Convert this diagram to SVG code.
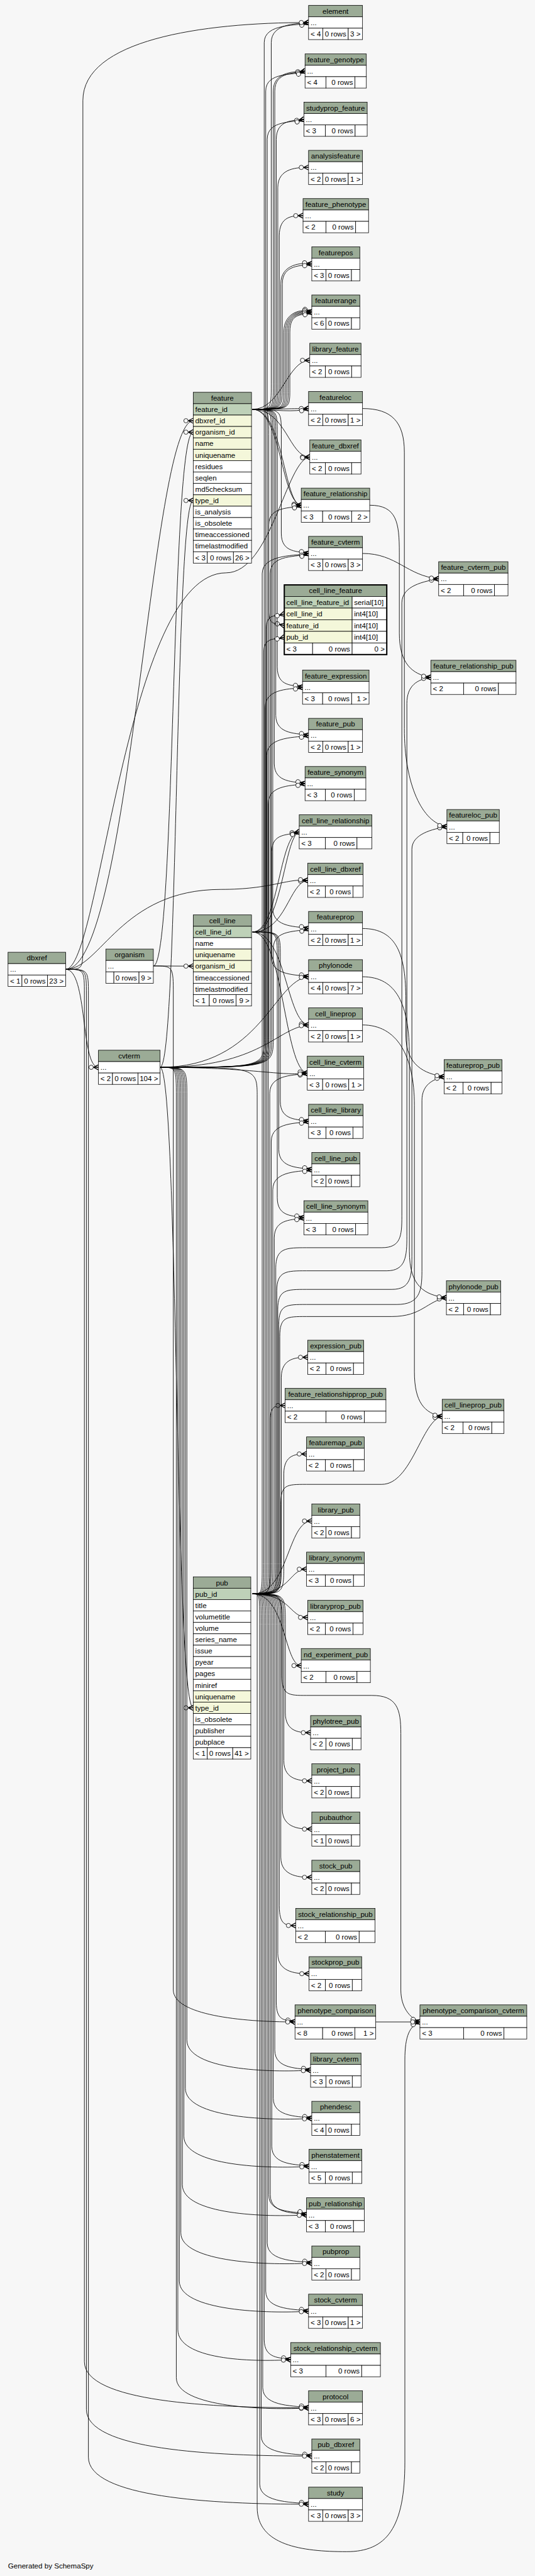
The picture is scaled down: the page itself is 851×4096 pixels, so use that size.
<svg xmlns="http://www.w3.org/2000/svg" xmlns:xlink="http://www.w3.org/1999/xlink" width="851" height="4096" viewBox="0 0 851 4096">
<style>
.e{fill:none;stroke:#000;stroke-width:1.1;marker-end:url(#cr)}
.b{fill:#fff;stroke:#000;stroke-width:1}
.h{fill:#9bab96;stroke:#000;stroke-width:1}
.k{fill:#bed1b8;stroke:#000;stroke-width:1}
.x{fill:#f4f7da;stroke:#000;stroke-width:1}
text{font-family:"Liberation Sans",Arial,Helvetica,sans-serif;font-size:14.5px;fill:#000}
.t{text-anchor:middle}
.r{text-anchor:end}
</style>
<defs>
<marker id="cr" viewBox="-20 -7 22 14" refX="0" refY="0" markerWidth="22" markerHeight="14" markerUnits="userSpaceOnUse" orient="auto" overflow="visible">
<path d="M0,-5 L-10,0 L0,5 M-10,0 L0,0" fill="none" stroke="#000" stroke-width="1.6"/>
<circle cx="-14.5" cy="0" r="4.3" fill="#f7f7f7" stroke="#000" stroke-width="1"/>
</marker>
<g id="fE"><rect class="h" width="107.4" height="22.67"/><rect class="b" y="22.67" width="107.4" height="22.67"/><rect class="b" y="45.33" width="28.4" height="22.67"/><rect class="b" x="28.4" y="45.33" width="50.6" height="22.67"/><rect class="b" x="79" y="45.33" width="28.4" height="22.67"/></g>
<g id="fP"><rect class="h" width="95.6" height="22.67"/><rect class="b" y="22.67" width="95.6" height="22.67"/><rect class="b" y="45.33" width="28.3" height="22.67"/><rect class="b" x="28.3" y="45.33" width="50.7" height="22.67"/><rect class="b" x="79" y="45.33" width="16.6" height="22.67"/></g>
<g id="fQ"><rect class="h" width="115" height="22.67"/><rect class="b" y="22.67" width="115" height="22.67"/><rect class="b" y="45.33" width="37.4" height="22.67"/><rect class="b" x="37.4" y="45.33" width="56" height="22.67"/><rect class="b" x="93.4" y="45.33" width="21.6" height="22.67"/></g>
<g id="fT"><rect class="h" width="100.4" height="22.67"/><rect class="b" y="22.67" width="100.4" height="22.67"/><rect class="b" y="45.33" width="30.7" height="22.67"/><rect class="b" x="30.7" y="45.33" width="52.3" height="22.67"/><rect class="b" x="83" y="45.33" width="17.4" height="22.67"/></g>
<g id="fU"><rect class="h" width="110" height="22.67"/><rect class="b" y="22.67" width="110" height="22.67"/><rect class="b" y="45.33" width="35" height="22.67"/><rect class="b" x="35" y="45.33" width="55" height="22.67"/><rect class="b" x="90" y="45.33" width="20" height="22.67"/></g>
<g id="fL"><rect class="h" width="102" height="22.67"/><rect class="b" y="22.67" width="102" height="22.67"/><rect class="b" y="45.33" width="31" height="22.67"/><rect class="b" x="31" y="45.33" width="52.3" height="22.67"/><rect class="b" x="83.3" y="45.33" width="18.7" height="22.67"/></g>
</defs>
<rect width="851" height="4096" fill="#f7f7f7"/>
<g transform="scale(0.799)">
<g id="connectors">
<path class="e" d="M502.7,814.6 C540,814.6 540,814.6 540,764.6 L540,84.8 C540,44.8 594.3,47.8 614.3,44.8"/>
<path class="e" d="M502.7,814.6 C544,814.6 544,814.6 544,764.6 L544,181.3 C544,141.3 587.3,143.3 607.3,141.3"/>
<path class="e" d="M502.7,814.6 C547,814.6 547,814.6 547,764.6 L547,181.3 C547,141.3 587.3,147.3 607.3,141.3"/>
<path class="e" d="M502.7,814.6 C550,814.6 550,814.6 550,764.6 L550,277.3 C550,237.3 585,240.3 605,237.3"/>
<path class="e" d="M502.7,814.6 C553,814.6 553,814.6 553,764.6 L553,373.2 C553,333.2 594.3,333.2 614.3,333.2"/>
<path class="e" d="M502.7,814.6 C556,814.6 556,814.6 556,764.6 L556,469.2 C556,429.2 583.3,429.2 603.3,429.2"/>
<path class="e" d="M502.7,814.6 C559,814.6 559,814.6 559,764.6 L559,565.1 C559,525.1 600.7,522.1 620.7,525.1"/>
<path class="e" d="M502.7,814.6 C562,814.6 562,814.6 562,764.6 L562,565.1 C562,525.1 600.7,530.1 620.7,525.1"/>
<path class="e" d="M502.7,814.6 C565,814.6 565,814.6 565,774.6 L565,661 C565,621 600.7,613 620.7,621"/>
<path class="e" d="M502.7,814.6 C568,814.6 568,814.6 568,774.6 L568,661 C568,621 600.7,617 620.7,621"/>
<path class="e" d="M502.7,814.6 C571,814.6 571,814.6 571,774.6 L571,661 C571,621 600.7,621 620.7,621"/>
<path class="e" d="M502.7,814.6 C574,814.6 574,814.6 574,774.6 L574,661 C574,621 600.7,625 620.7,621"/>
<path class="e" d="M502.7,814.6 C577,814.6 577,814.6 577,774.6 L577,661 C577,621 600.7,629 620.7,621"/>
<path class="e" d="M502.7,814.6 C560,814.6 572,717 616.7,717"/>
<path class="e" d="M502.7,814.6 C560,814.6 570,813 614.3,813"/>
<path class="e" d="M502.7,814.6 C545,814.6 585,822 614.3,813"/>
<path class="e" d="M502.7,814.6 C570,814.6 575,909.5 616.7,909.5"/>
<path class="e" d="M502.7,814.6 C560,814.6 560,1000 599.7,1005.4"/>
<path class="e" d="M502.7,814.6 C565,814.6 565,1005.4 599.7,1005.4"/>
<path class="e" d="M502.7,814.6 C560,814.6 560,814.6 560,864.6 L560,1061.4 C560,1101.4 594.3,1096.4 614.3,1101.4"/>
<path class="e" d="M502.7,814.6 C535,814.6 535,814.6 535,864.6 L535,1214.85 C535,1244.85 546,1240 566,1244.85"/>
<path class="e" d="M502.7,814.6 C552,814.6 552,814.6 552,864.6 L552,1327.5 C552,1367.5 582.3,1362.5 602.3,1367.5"/>
<path class="e" d="M502.7,814.6 C549,814.6 549,814.6 549,864.6 L549,1423.5 C549,1463.5 594.3,1458.5 614.3,1463.5"/>
<path class="e" d="M502.7,814.6 C546,814.6 546,814.6 546,864.6 L546,1519.4 C546,1559.4 587.3,1554.4 607.3,1559.4"/>
<path class="e" d="M502.7,814.6 C543,814.6 543,814.6 543,864.6 L543,1807.8 C543,1847.8 594.3,1842.8 614.3,1847.8"/>
<path class="e" d="M502.7,814.6 C540,814.6 540,814.6 540,864.6 L540,1903.8 C540,1943.8 594.3,1938.8 614.3,1943.8"/>
<path class="e" d="M502.7,1854.7 C530,1854.7 530,1854.7 530,1804.7 L530,1251.75 C530,1221.75 546,1226.75 566,1221.75"/>
<path class="e" d="M502.7,1854.7 C555,1854.7 555,1660 595.7,1655.4"/>
<path class="e" d="M502.7,1854.7 C562,1854.7 565,1666 595.7,1655.4"/>
<path class="e" d="M502.7,1854.7 C570,1854.7 575,1756 612.7,1751.9"/>
<path class="e" d="M502.7,1854.7 C570,1854.7 570,2034 614.3,2039.7"/>
<path class="e" d="M502.7,1854.7 C565,1854.7 565,2128 611.7,2135.7"/>
<path class="e" d="M502.7,1854.7 C558,1854.7 558,1854.7 558,1904.7 L558,2191.6 C558,2231.6 594.3,2226.6 614.3,2231.6"/>
<path class="e" d="M502.7,1854.7 C555,1854.7 555,1854.7 555,1904.7 L555,2287.6 C555,2327.6 600.7,2322.6 620.7,2327.6"/>
<path class="e" d="M502.7,1854.7 C552,1854.7 552,1854.7 552,1904.7 L552,2383.5 C552,2423.5 585,2418.5 605,2423.5"/>
<path class="e" d="M502.7,3172 C522,3172 522,3172 522,3112 L522,1141.4 C522,1101.4 594.3,1106.4 614.3,1101.4"/>
<path class="e" d="M502.7,3172 C525,3172 525,3172 525,3112 L525,1297.95 C525,1267.95 546,1272.95 566,1267.95"/>
<path class="e" d="M502.7,3172 C528,3172 528,3172 528,3112 L528,1407.5 C528,1367.5 582.3,1372.5 602.3,1367.5"/>
<path class="e" d="M502.7,3172 C531,3172 531,3172 531,3112 L531,1503.5 C531,1463.5 594.3,1468.5 614.3,1463.5"/>
<path class="e" d="M502.7,3172 C534,3172 534,3172 534,3112 L534,1599.4 C534,1559.4 587.3,1564.4 607.3,1559.4"/>
<path class="e" d="M502.7,3172 C537,3172 537,3172 537,3112 L537,2175.7 C537,2135.7 591.7,2140.7 611.7,2135.7"/>
<path class="e" d="M502.7,3172 C540,3172 540,3172 540,3112 L540,2271.6 C540,2231.6 594.3,2236.6 614.3,2231.6"/>
<path class="e" d="M502.7,3172 C543,3172 543,3172 543,3112 L543,2367.6 C543,2327.6 600.7,2332.6 620.7,2327.6"/>
<path class="e" d="M502.7,3172 C546,3172 546,3172 546,3112 L546,2463.5 C546,2423.5 585,2428.5 605,2423.5"/>
<path class="e" d="M502.7,3172 C560,3172 560,3172 560,3112 L560,2741.1 C560,2701.1 592.7,2701.1 612.7,2701.1"/>
<path class="e" d="M502.7,3172 C538,3172 538,3172 538,3112 L538,2827 C538,2797 547.7,2797 567.7,2797"/>
<path class="e" d="M502.7,3172 C565,3172 565,3172 565,3112 L565,2933.5 C565,2893.5 590.3,2893.5 610.3,2893.5"/>
<path class="e" d="M502.7,3172 C575,3172 572,3026.9 620.7,3026.9"/>
<path class="e" d="M502.7,3172 C580,3172 575,3122.8 610.3,3122.8"/>
<path class="e" d="M502.7,3172 C549,3172 549,3172 549,3112 L549,2523 C549,2483 570,2483 610,2483 L760,2483 C798,2483 800,2460 800,2420 L800,1200 C800,1165 845,1157 873.3,1151.8"/>
<path class="e" d="M502.7,3172 C551,3172 551,3172 551,3112 L551,2569 C551,2529 570,2529 610,2529 L770,2529 C808,2529 810,2500 810,2460 L810,1400 C810,1365 830,1352 857.7,1348"/>
<path class="e" d="M502.7,3172 C553,3172 553,3172 553,3112 L553,2606 C553,2566 570,2566 610,2566 L780,2566 C818,2566 820,2540 820,2500 L820,1690 C820,1660 860,1650 889.7,1645"/>
<path class="e" d="M502.7,3172 C555,3172 555,3172 555,3112 L555,2636 C555,2596 570,2596 610,2596 L790,2596 C835,2596 840,2570 840,2530 L840,2190 C840,2160 860,2148 884.3,2142.7"/>
<path class="e" d="M502.7,3172 C557,3172 557,3172 557,3112 L557,2660 C557,2620 570,2620 610,2620 L780,2620 C840,2620 850,2589 888.7,2582.7"/>
<path class="e" d="M502.7,3172 C559,3172 559,3172 559,3112 L559,2994 C559,2954 570,2954 610,2954 L760,2954 C820,2954 840,2825 880.3,2818.7"/>
<path class="e" d="M502.7,3172 C561,3172 561,3172 561,3232 L561,3334 C561,3374 575,3374 610,3374 L740,3374 C790,3374 798,3400 798,3450 L798,3960 C798,3995 816,4016 836,4023.8"/>
<path class="e" d="M502.7,3172 C580,3172 575,3218.8 612.7,3218.8"/>
<path class="e" d="M502.7,3172 C570,3172 565,3314.7 599.7,3314.7"/>
<path class="e" d="M502.7,3172 C568,3172 568,3172 568,3232 L568,3408.1 C568,3448.1 598.3,3448.1 618.3,3448.1"/>
<path class="e" d="M502.7,3172 C565,3172 565,3172 565,3232 L565,3504 C565,3544 600.7,3544 620.7,3544"/>
<path class="e" d="M502.7,3172 C562,3172 562,3172 562,3232 L562,3600 C562,3640 600.7,3640 620.7,3640"/>
<path class="e" d="M502.7,3172 C559,3172 559,3172 559,3232 L559,3696 C559,3736 600.7,3736 620.7,3736"/>
<path class="e" d="M502.7,3172 C556,3172 556,3172 556,3232 L556,3791.9 C556,3831.9 568.7,3831.9 588.7,3831.9"/>
<path class="e" d="M502.7,3172 C553,3172 553,3172 553,3232 L553,3887.8 C553,3927.8 595.3,3927.8 615.3,3927.8"/>
<path class="e" d="M502.7,3172 C550,3172 550,3172 550,3232 L550,3983.8 C550,4023.8 567.3,4018.8 587.3,4023.8"/>
<path class="e" d="M502.7,3172 C547,3172 547,3172 547,3232 L547,4079.8 C547,4119.8 598.3,4114.8 618.3,4119.8"/>
<path class="e" d="M502.7,3172 C544,3172 544,3172 544,3232 L544,4175.7 C544,4215.7 600.7,4210.7 620.7,4215.7"/>
<path class="e" d="M502.7,3172 C541,3172 541,3172 541,3232 L541,4271.3 C541,4311.3 595.3,4306.3 615.3,4311.3"/>
<path class="e" d="M502.7,3172 C538,3172 538,3172 538,3232 L538,4367.7 C538,4407.7 590.3,4402.7 610.3,4407.7"/>
<path class="e" d="M502.7,3172 C535,3172 535,3172 535,3232 L535,4367.7 C535,4407.7 590.3,4398 610.3,4407.7"/>
<path class="e" d="M502.7,3172 C532,3172 532,3172 532,3232 L532,4463.6 C532,4503.6 600.7,4498.6 620.7,4503.6"/>
<path class="e" d="M502.7,3172 C529,3172 529,3172 529,3232 L529,4559.5 C529,4599.5 594.3,4594.5 614.3,4599.5"/>
<path class="e" d="M502.7,3172 C526,3172 526,3172 526,3232 L526,4655.9 C526,4695.9 558.7,4690.9 578.7,4695.9"/>
<path class="e" d="M502.7,3172 C523,3172 523,3172 523,3232 L523,4751.8 C523,4791.8 594.3,4786.8 614.3,4791.8"/>
<path class="e" d="M502.7,3172 C520,3172 520,3172 520,3232 L520,4847.7 C520,4887.7 600.7,4882.7 620.7,4887.7"/>
<path class="e" d="M502.7,3172 C517,3172 517,3172 517,3232 L517,4943.6 C517,4983.6 594.3,4978.6 614.3,4983.6"/>
<path class="e" d="M318.7,2124 C355,2124 348,996 384.7,996"/>
<path class="e" d="M318.7,2124 C355,2124 348,3398.7 384.7,3398.7"/>
<path class="e" d="M318.7,2124 C526,2124 526,2124 526,2064 L526,84.8 C526,44.8 594.3,52.8 614.3,44.8"/>
<path class="e" d="M318.7,2124 C529,2124 529,2124 529,2064 L529,181.3 C529,141.3 587.3,151.3 607.3,141.3"/>
<path class="e" d="M318.7,2124 C532,2124 532,2124 532,2064 L532,277.3 C532,237.3 585,245.3 605,237.3"/>
<path class="e" d="M318.7,2124 C535,2124 535,2124 535,2064 L535,1045.4 C535,1005.4 579.7,1013.4 599.7,1005.4"/>
<path class="e" d="M318.7,2124 C538,2124 538,2124 538,2064 L538,1141.4 C538,1101.4 594.3,1110 614.3,1101.4"/>
<path class="e" d="M318.7,2124 C541,2124 541,2124 541,2064 L541,1695.4 C541,1655.4 575.7,1663.4 595.7,1655.4"/>
<path class="e" d="M318.7,2124 C544,2124 544,2124 544,2064 L544,1887.8 C544,1847.8 594.3,1855.8 614.3,1847.8"/>
<path class="e" d="M318.7,2124 C520,2124 545,1950 614.3,1943.8"/>
<path class="e" d="M318.7,2124 C520,2124 550,2046 614.3,2039.7"/>
<path class="e" d="M318.7,2124 C500,2124 560,2142 611.7,2135.7"/>
<path class="e" d="M318.7,2124 C372,2124 372,2124 372,2184 L372,4059.8 C372,4119.8 538.3,4124.8 618.3,4119.8"/>
<path class="e" d="M318.7,2124 C369,2124 369,2124 369,2184 L369,4155.7 C369,4215.7 540.7,4220.7 620.7,4215.7"/>
<path class="e" d="M318.7,2124 C366,2124 366,2124 366,2184 L366,4251.3 C366,4311.3 535.3,4316.3 615.3,4311.3"/>
<path class="e" d="M318.7,2124 C363,2124 363,2124 363,2184 L363,4347.7 C363,4407.7 530.3,4412.7 610.3,4407.7"/>
<path class="e" d="M318.7,2124 C360,2124 360,2124 360,2184 L360,4443.6 C360,4503.6 540.7,4508.6 620.7,4503.6"/>
<path class="e" d="M318.7,2124 C357,2124 357,2124 357,2184 L357,4539.5 C357,4599.5 534.3,4604.5 614.3,4599.5"/>
<path class="e" d="M318.7,2124 C354,2124 354,2124 354,2184 L354,4635.9 C354,4695.9 498.7,4700.9 578.7,4695.9"/>
<path class="e" d="M318.7,2124 C351,2124 351,2124 351,2184 L351,4731.8 C351,4791.8 534.3,4796.8 614.3,4791.8"/>
<path class="e" d="M318.7,2124 C512,2124 512,2124 512,2184 L512,4990 C512,5065 600,5078 690,5078 C770,5078 806,5030 806,4900 L806,4100 C806,4050 816,4032 836,4023.8"/>
<path class="e" d="M130.7,1929 C260,1929 300,837.3 384.7,837.3"/>
<path class="e" d="M130.7,1929 C175,1929 160,2124 196,2124"/>
<path class="e" d="M130.7,1929 C165,1929 165,1929 165,1880 L165,200 C165,80 400,44.8 614.3,44.8"/>
<path class="e" d="M130.7,1929 C200,1929 250,1140 450,1140 C540,1140 570,914 616.7,909.5"/>
<path class="e" d="M130.7,1929 C200,1929 240,1770 440,1770 C540,1770 570,1748 612.7,1751.9"/>
<path class="e" d="M130.7,1929 C168,1929 168,1929 168,1980 L168,4700 C168,4780 420,4791.8 614.3,4791.8"/>
<path class="e" d="M130.7,1929 C172,1929 172,1929 172,1980 L172,4795 C172,4875 420,4887.7 620.7,4887.7"/>
<path class="e" d="M130.7,1929 C176,1929 176,1929 176,1980 L176,4890 C176,4970 420,4983.6 614.3,4983.6"/>
<path class="e" d="M305.3,1922.3 C350,1922.3 340,860 384.7,860"/>
<path class="e" d="M305.3,1922.3 L384.7,1922.7"/>
<path class="e" d="M305.3,1922.3 C345,1922.3 345,1922.3 345,1980 L345,3960 C345,4010 480,4023.8 587.3,4023.8"/>
<path class="e" d="M721.7,813 C780,813 805,840 805,900 L805,1450 C805,1560 840,1638 889.7,1645"/>
<path class="e" d="M736,1005.4 C790,1005.4 795,1040 795,1100 L795,1260 C795,1320 820,1342 857.7,1348"/>
<path class="e" d="M721.7,1101.4 C790,1101.4 810,1146 873.3,1151.8"/>
<path class="e" d="M721.7,1847.8 C790,1847.8 808,1900 808,1990 L808,2060 C808,2120 845,2137 884.3,2142.7"/>
<path class="e" d="M721.7,1943.8 C790,1943.8 815,2000 815,2100 L815,2490 C815,2560 845,2577 888.7,2582.7"/>
<path class="e" d="M721.7,2039.7 C790,2039.7 825,2100 825,2200 L825,2730 C825,2790 845,2813 880.3,2818.7"/>
<path class="e" d="M748,4023.8 L836,4023.8"/>
</g>
<g id="nodes">
<g id="feature" transform="translate(384.7,780.7)">
<rect class="h" width="116" height="22.67"/>
<rect class="k" y="22.67" width="116" height="22.67"/>
<rect class="x" y="45.33" width="116" height="22.67"/>
<rect class="x" y="68" width="116" height="22.67"/>
<rect class="x" y="90.67" width="116" height="22.67"/>
<rect class="x" y="113.33" width="116" height="22.67"/>
<rect class="b" y="136" width="116" height="22.67"/>
<rect class="b" y="158.67" width="116" height="22.67"/>
<rect class="b" y="181.33" width="116" height="22.67"/>
<rect class="x" y="204" width="116" height="22.67"/>
<rect class="b" y="226.67" width="116" height="22.67"/>
<rect class="b" y="249.33" width="116" height="22.67"/>
<rect class="b" y="272" width="116" height="22.67"/>
<rect class="b" y="294.67" width="116" height="22.67"/>
<rect class="b" y="317.33" width="28" height="22.67"/><rect class="b" x="28" y="317.33" width="52" height="22.67"/><rect class="b" x="80" y="317.33" width="36" height="22.67"/>
<text class="t" x="58" y="16.6">feature</text>
<text x="4" y="39.27">feature_id</text>
<text x="4" y="61.93">dbxref_id</text>
<text x="4" y="84.6">organism_id</text>
<text x="4" y="107.27">name</text>
<text x="4" y="129.93">uniquename</text>
<text x="4" y="152.6">residues</text>
<text x="4" y="175.27">seqlen</text>
<text x="4" y="197.93">md5checksum</text>
<text x="4" y="220.6">type_id</text>
<text x="4" y="243.27">is_analysis</text>
<text x="4" y="265.93">is_obsolete</text>
<text x="4" y="288.6">timeaccessioned</text>
<text x="4" y="311.27">timelastmodified</text>
<text x="4" y="333.93">&lt; 3</text><text class="r" x="76" y="333.93">0 rows</text><text class="r" x="112" y="333.93">26 &gt;</text>
</g>
<g id="cell_line" transform="translate(384.7,1820.7)">
<rect class="h" width="116" height="22.67"/>
<rect class="k" y="22.67" width="116" height="22.67"/>
<rect class="b" y="45.33" width="116" height="22.67"/>
<rect class="x" y="68" width="116" height="22.67"/>
<rect class="x" y="90.67" width="116" height="22.67"/>
<rect class="b" y="113.33" width="116" height="22.67"/>
<rect class="b" y="136" width="116" height="22.67"/>
<rect class="b" y="158.67" width="32" height="22.67"/><rect class="b" x="32" y="158.67" width="53.3" height="22.67"/><rect class="b" x="85.3" y="158.67" width="30.7" height="22.67"/>
<text class="t" x="58" y="16.6">cell_line</text>
<text x="4" y="39.27">cell_line_id</text>
<text x="4" y="61.93">name</text>
<text x="4" y="84.6">uniquename</text>
<text x="4" y="107.27">organism_id</text>
<text x="4" y="129.93">timeaccessioned</text>
<text x="4" y="152.6">timelastmodified</text>
<text x="4" y="175.27">&lt; 1</text><text class="r" x="81.3" y="175.27">0 rows</text><text class="r" x="112" y="175.27">9 &gt;</text>
</g>
<g id="pub" transform="translate(384.7,3138)">
<rect class="h" width="114.6" height="22.67"/>
<rect class="k" y="22.67" width="114.6" height="22.67"/>
<rect class="b" y="45.33" width="114.6" height="22.67"/>
<rect class="b" y="68" width="114.6" height="22.67"/>
<rect class="b" y="90.67" width="114.6" height="22.67"/>
<rect class="b" y="113.33" width="114.6" height="22.67"/>
<rect class="b" y="136" width="114.6" height="22.67"/>
<rect class="b" y="158.67" width="114.6" height="22.67"/>
<rect class="b" y="181.33" width="114.6" height="22.67"/>
<rect class="b" y="204" width="114.6" height="22.67"/>
<rect class="x" y="226.67" width="114.6" height="22.67"/>
<rect class="x" y="249.33" width="114.6" height="22.67"/>
<rect class="b" y="272" width="114.6" height="22.67"/>
<rect class="b" y="294.67" width="114.6" height="22.67"/>
<rect class="b" y="317.33" width="114.6" height="22.67"/>
<rect class="b" y="340" width="28" height="22.67"/><rect class="b" x="28" y="340" width="50.6" height="22.67"/><rect class="b" x="78.6" y="340" width="36" height="22.67"/>
<text class="t" x="57.3" y="16.6">pub</text>
<text x="4" y="39.27">pub_id</text>
<text x="4" y="61.93">title</text>
<text x="4" y="84.6">volumetitle</text>
<text x="4" y="107.27">volume</text>
<text x="4" y="129.93">series_name</text>
<text x="4" y="152.6">issue</text>
<text x="4" y="175.27">pyear</text>
<text x="4" y="197.93">pages</text>
<text x="4" y="220.6">miniref</text>
<text x="4" y="243.27">uniquename</text>
<text x="4" y="265.93">type_id</text>
<text x="4" y="288.6">is_obsolete</text>
<text x="4" y="311.27">publisher</text>
<text x="4" y="333.93">pubplace</text>
<text x="4" y="356.6">&lt; 1</text><text class="r" x="74.6" y="356.6">0 rows</text><text class="r" x="110.6" y="356.6">41 &gt;</text>
</g>
<g id="cell_line_feature" transform="translate(566,1164)">
<rect class="h" width="204" height="23.1"/>
<rect class="k" y="23.1" width="135" height="23.1"/><rect class="b" x="135" y="23.1" width="69" height="23.1"/>
<rect class="x" y="46.2" width="135" height="23.1"/><rect class="b" x="135" y="46.2" width="69" height="23.1"/>
<rect class="x" y="69.3" width="135" height="23.1"/><rect class="b" x="135" y="69.3" width="69" height="23.1"/>
<rect class="x" y="92.4" width="135" height="23.1"/><rect class="b" x="135" y="92.4" width="69" height="23.1"/>
<rect class="b" y="115.5" width="56.3" height="23.1"/><rect class="b" x="56.3" y="115.5" width="78.7" height="23.1"/><rect class="b" x="135" y="115.5" width="69" height="23.1"/>
<rect x="0" y="0" width="204" height="138.6" fill="none" stroke="#000" stroke-width="2.5"/>
<text class="t" x="102" y="16.8">cell_line_feature</text>
<text x="4" y="39.9">cell_line_feature_id</text><text x="139" y="39.9">serial[10]</text>
<text x="4" y="63">cell_line_id</text><text x="139" y="63">int4[10]</text>
<text x="4" y="86.1">feature_id</text><text x="139" y="86.1">int4[10]</text>
<text x="4" y="109.2">pub_id</text><text x="139" y="109.2">int4[10]</text>
<text x="4" y="132.3">&lt; 3</text><text class="r" x="131" y="132.3">0 rows</text><text class="r" x="200" y="132.3">0 &gt;</text>
</g>
<g id="element" transform="translate(614.3,10.8)"><use href="#fE"/><text class="t" x="53.7" y="16.6">element</text><text x="4" y="39.2">...</text><text x="4" y="61.9">&lt; 4</text><text class="r" x="75" y="61.9">0 rows</text><text class="r" x="103.4" y="61.9">3 &gt;</text></g>
<g id="feature_genotype" transform="translate(607.3,107.3)"><rect class="h" width="122" height="22.67"/><rect class="b" y="22.67" width="122" height="22.67"/><rect class="b" y="45.33" width="41.7" height="22.67"/><rect class="b" x="41.7" y="45.33" width="57.7" height="22.67"/><rect class="b" x="99.4" y="45.33" width="22.6" height="22.67"/><text class="t" x="61" y="16.6">feature_genotype</text><text x="4" y="39.2">...</text><text x="4" y="61.9">&lt; 4</text><text class="r" x="95.4" y="61.9">0 rows</text></g>
<g id="studyprop_feature" transform="translate(605,203.3)"><rect class="h" width="126" height="22.67"/><rect class="b" y="22.67" width="126" height="22.67"/><rect class="b" y="45.33" width="42.7" height="22.67"/><rect class="b" x="42.7" y="45.33" width="59.3" height="22.67"/><rect class="b" x="102" y="45.33" width="24" height="22.67"/><text class="t" x="63" y="16.6">studyprop_feature</text><text x="4" y="39.2">...</text><text x="4" y="61.9">&lt; 3</text><text class="r" x="98" y="61.9">0 rows</text></g>
<g id="analysisfeature" transform="translate(614.3,299.2)"><use href="#fE"/><text class="t" x="53.7" y="16.6">analysisfeature</text><text x="4" y="39.2">...</text><text x="4" y="61.9">&lt; 2</text><text class="r" x="75" y="61.9">0 rows</text><text class="r" x="103.4" y="61.9">1 &gt;</text></g>
<g id="feature_phenotype" transform="translate(603.3,395.2)"><rect class="h" width="130.4" height="22.67"/><rect class="b" y="22.67" width="130.4" height="22.67"/><rect class="b" y="45.33" width="45.7" height="22.67"/><rect class="b" x="45.7" y="45.33" width="59" height="22.67"/><rect class="b" x="104.7" y="45.33" width="25.7" height="22.67"/><text class="t" x="65.2" y="16.6">feature_phenotype</text><text x="4" y="39.2">...</text><text x="4" y="61.9">&lt; 2</text><text class="r" x="100.7" y="61.9">0 rows</text></g>
<g id="featurepos" transform="translate(620.7,491.1)"><use href="#fP"/><text class="t" x="47.8" y="16.6">featurepos</text><text x="4" y="39.2">...</text><text x="4" y="61.9">&lt; 3</text><text class="r" x="75" y="61.9">0 rows</text></g>
<g id="featurerange" transform="translate(620.7,587)"><use href="#fP"/><text class="t" x="47.8" y="16.6">featurerange</text><text x="4" y="39.2">...</text><text x="4" y="61.9">&lt; 6</text><text class="r" x="75" y="61.9">0 rows</text></g>
<g id="library_feature" transform="translate(616.7,683)"><use href="#fL"/><text class="t" x="51" y="16.6">library_feature</text><text x="4" y="39.2">...</text><text x="4" y="61.9">&lt; 2</text><text class="r" x="79.3" y="61.9">0 rows</text></g>
<g id="featureloc" transform="translate(614.3,779)"><use href="#fE"/><text class="t" x="53.7" y="16.6">featureloc</text><text x="4" y="39.2">...</text><text x="4" y="61.9">&lt; 2</text><text class="r" x="75" y="61.9">0 rows</text><text class="r" x="103.4" y="61.9">1 &gt;</text></g>
<g id="feature_dbxref" transform="translate(616.7,875.5)"><use href="#fL"/><text class="t" x="51" y="16.6">feature_dbxref</text><text x="4" y="39.2">...</text><text x="4" y="61.9">&lt; 2</text><text class="r" x="79.3" y="61.9">0 rows</text></g>
<g id="feature_relationship" transform="translate(599.7,971.4)"><rect class="h" width="136.3" height="22.67"/><rect class="b" y="22.67" width="136.3" height="22.67"/><rect class="b" y="45.33" width="42.6" height="22.67"/><rect class="b" x="42.6" y="45.33" width="57.7" height="22.67"/><rect class="b" x="100.3" y="45.33" width="36" height="22.67"/><text class="t" x="68.15" y="16.6">feature_relationship</text><text x="4" y="39.2">...</text><text x="4" y="61.9">&lt; 3</text><text class="r" x="96.3" y="61.9">0 rows</text><text class="r" x="132.3" y="61.9">2 &gt;</text></g>
<g id="feature_cvterm" transform="translate(614.3,1067.4)"><use href="#fE"/><text class="t" x="53.7" y="16.6">feature_cvterm</text><text x="4" y="39.2">...</text><text x="4" y="61.9">&lt; 3</text><text class="r" x="75" y="61.9">0 rows</text><text class="r" x="103.4" y="61.9">3 &gt;</text></g>
<g id="feature_expression" transform="translate(602.3,1333.5)"><rect class="h" width="132.4" height="22.67"/><rect class="b" y="22.67" width="132.4" height="22.67"/><rect class="b" y="45.33" width="40" height="22.67"/><rect class="b" x="40" y="45.33" width="57.7" height="22.67"/><rect class="b" x="97.7" y="45.33" width="34.7" height="22.67"/><text class="t" x="66.2" y="16.6">feature_expression</text><text x="4" y="39.2">...</text><text x="4" y="61.9">&lt; 3</text><text class="r" x="93.7" y="61.9">0 rows</text><text class="r" x="128.4" y="61.9">1 &gt;</text></g>
<g id="feature_pub" transform="translate(614.3,1429.5)"><use href="#fE"/><text class="t" x="53.7" y="16.6">feature_pub</text><text x="4" y="39.2">...</text><text x="4" y="61.9">&lt; 2</text><text class="r" x="75" y="61.9">0 rows</text><text class="r" x="103.4" y="61.9">1 &gt;</text></g>
<g id="feature_synonym" transform="translate(607.3,1525.4)"><rect class="h" width="121" height="22.67"/><rect class="b" y="22.67" width="121" height="22.67"/><rect class="b" y="45.33" width="40.4" height="22.67"/><rect class="b" x="40.4" y="45.33" width="57.6" height="22.67"/><rect class="b" x="98" y="45.33" width="23" height="22.67"/><text class="t" x="60.5" y="16.6">feature_synonym</text><text x="4" y="39.2">...</text><text x="4" y="61.9">&lt; 3</text><text class="r" x="94" y="61.9">0 rows</text></g>
<g id="cell_line_relationship" transform="translate(595.7,1621.4)"><rect class="h" width="144.6" height="22.67"/><rect class="b" y="22.67" width="144.6" height="22.67"/><rect class="b" y="45.33" width="52" height="22.67"/><rect class="b" x="52" y="45.33" width="63" height="22.67"/><rect class="b" x="115" y="45.33" width="29.6" height="22.67"/><text class="t" x="72.3" y="16.6">cell_line_relationship</text><text x="4" y="39.2">...</text><text x="4" y="61.9">&lt; 3</text><text class="r" x="111" y="61.9">0 rows</text></g>
<g id="cell_line_dbxref" transform="translate(612.7,1717.9)"><use href="#fU"/><text class="t" x="55" y="16.6">cell_line_dbxref</text><text x="4" y="39.2">...</text><text x="4" y="61.9">&lt; 2</text><text class="r" x="86" y="61.9">0 rows</text></g>
<g id="featureprop" transform="translate(614.3,1813.8)"><use href="#fE"/><text class="t" x="53.7" y="16.6">featureprop</text><text x="4" y="39.2">...</text><text x="4" y="61.9">&lt; 2</text><text class="r" x="75" y="61.9">0 rows</text><text class="r" x="103.4" y="61.9">1 &gt;</text></g>
<g id="phylonode" transform="translate(614.3,1909.8)"><use href="#fE"/><text class="t" x="53.7" y="16.6">phylonode</text><text x="4" y="39.2">...</text><text x="4" y="61.9">&lt; 4</text><text class="r" x="75" y="61.9">0 rows</text><text class="r" x="103.4" y="61.9">7 &gt;</text></g>
<g id="cell_lineprop" transform="translate(614.3,2005.7)"><use href="#fE"/><text class="t" x="53.7" y="16.6">cell_lineprop</text><text x="4" y="39.2">...</text><text x="4" y="61.9">&lt; 2</text><text class="r" x="75" y="61.9">0 rows</text><text class="r" x="103.4" y="61.9">1 &gt;</text></g>
<g id="cell_line_cvterm" transform="translate(611.7,2101.7)"><rect class="h" width="112.3" height="22.67"/><rect class="b" y="22.67" width="112.3" height="22.67"/><rect class="b" y="45.33" width="30.6" height="22.67"/><rect class="b" x="30.6" y="45.33" width="52" height="22.67"/><rect class="b" x="82.6" y="45.33" width="29.7" height="22.67"/><text class="t" x="56.15" y="16.6">cell_line_cvterm</text><text x="4" y="39.2">...</text><text x="4" y="61.9">&lt; 3</text><text class="r" x="78.6" y="61.9">0 rows</text><text class="r" x="108.3" y="61.9">1 &gt;</text></g>
<g id="cell_line_library" transform="translate(614.3,2197.6)"><rect class="h" width="108.4" height="22.67"/><rect class="b" y="22.67" width="108.4" height="22.67"/><rect class="b" y="45.33" width="34.7" height="22.67"/><rect class="b" x="34.7" y="45.33" width="53.6" height="22.67"/><rect class="b" x="88.3" y="45.33" width="20.1" height="22.67"/><text class="t" x="54.2" y="16.6">cell_line_library</text><text x="4" y="39.2">...</text><text x="4" y="61.9">&lt; 3</text><text class="r" x="84.3" y="61.9">0 rows</text></g>
<g id="cell_line_pub" transform="translate(620.7,2293.6)"><use href="#fP"/><text class="t" x="47.8" y="16.6">cell_line_pub</text><text x="4" y="39.2">...</text><text x="4" y="61.9">&lt; 2</text><text class="r" x="75" y="61.9">0 rows</text></g>
<g id="cell_line_synonym" transform="translate(605,2389.5)"><rect class="h" width="127.3" height="22.67"/><rect class="b" y="22.67" width="127.3" height="22.67"/><rect class="b" y="45.33" width="44" height="22.67"/><rect class="b" x="44" y="45.33" width="59" height="22.67"/><rect class="b" x="103" y="45.33" width="24.3" height="22.67"/><text class="t" x="63.65" y="16.6">cell_line_synonym</text><text x="4" y="39.2">...</text><text x="4" y="61.9">&lt; 3</text><text class="r" x="99" y="61.9">0 rows</text></g>
<g id="expression_pub" transform="translate(612.7,2667.1)"><rect class="h" width="111.3" height="22.67"/><rect class="b" y="22.67" width="111.3" height="22.67"/><rect class="b" y="45.33" width="36.3" height="22.67"/><rect class="b" x="36.3" y="45.33" width="54.7" height="22.67"/><rect class="b" x="91" y="45.33" width="20.3" height="22.67"/><text class="t" x="55.65" y="16.6">expression_pub</text><text x="4" y="39.2">...</text><text x="4" y="61.9">&lt; 2</text><text class="r" x="87" y="61.9">0 rows</text></g>
<g id="feature_relationshipprop_pub" transform="translate(567.7,2763)"><rect class="h" width="200.6" height="22.67"/><rect class="b" y="22.67" width="200.6" height="22.67"/><rect class="b" y="45.33" width="81.3" height="22.67"/><rect class="b" x="81.3" y="45.33" width="76.3" height="22.67"/><rect class="b" x="157.6" y="45.33" width="43" height="22.67"/><text class="t" x="100.3" y="16.6">feature_relationshipprop_pub</text><text x="4" y="39.2">...</text><text x="4" y="61.9">&lt; 2</text><text class="r" x="153.6" y="61.9">0 rows</text></g>
<g id="featuremap_pub" transform="translate(610.3,2859.5)"><use href="#fQ"/><text class="t" x="57.5" y="16.6">featuremap_pub</text><text x="4" y="39.2">...</text><text x="4" y="61.9">&lt; 2</text><text class="r" x="89.4" y="61.9">0 rows</text></g>
<g id="library_pub" transform="translate(620.7,2992.9)"><use href="#fP"/><text class="t" x="47.8" y="16.6">library_pub</text><text x="4" y="39.2">...</text><text x="4" y="61.9">&lt; 2</text><text class="r" x="75" y="61.9">0 rows</text></g>
<g id="library_synonym" transform="translate(610.3,3088.8)"><use href="#fQ"/><text class="t" x="57.5" y="16.6">library_synonym</text><text x="4" y="39.2">...</text><text x="4" y="61.9">&lt; 3</text><text class="r" x="89.4" y="61.9">0 rows</text></g>
<g id="libraryprop_pub" transform="translate(612.7,3184.8)"><use href="#fU"/><text class="t" x="55" y="16.6">libraryprop_pub</text><text x="4" y="39.2">...</text><text x="4" y="61.9">&lt; 2</text><text class="r" x="86" y="61.9">0 rows</text></g>
<g id="nd_experiment_pub" transform="translate(599.7,3280.7)"><rect class="h" width="137.6" height="22.67"/><rect class="b" y="22.67" width="137.6" height="22.67"/><rect class="b" y="45.33" width="49.3" height="22.67"/><rect class="b" x="49.3" y="45.33" width="61.7" height="22.67"/><rect class="b" x="111" y="45.33" width="26.6" height="22.67"/><text class="t" x="68.8" y="16.6">nd_experiment_pub</text><text x="4" y="39.2">...</text><text x="4" y="61.9">&lt; 2</text><text class="r" x="107" y="61.9">0 rows</text></g>
<g id="phylotree_pub" transform="translate(618.3,3414.1)"><use href="#fT"/><text class="t" x="50.2" y="16.6">phylotree_pub</text><text x="4" y="39.2">...</text><text x="4" y="61.9">&lt; 2</text><text class="r" x="79" y="61.9">0 rows</text></g>
<g id="project_pub" transform="translate(620.7,3510)"><use href="#fP"/><text class="t" x="47.8" y="16.6">project_pub</text><text x="4" y="39.2">...</text><text x="4" y="61.9">&lt; 2</text><text class="r" x="75" y="61.9">0 rows</text></g>
<g id="pubauthor" transform="translate(620.7,3606)"><use href="#fP"/><text class="t" x="47.8" y="16.6">pubauthor</text><text x="4" y="39.2">...</text><text x="4" y="61.9">&lt; 1</text><text class="r" x="75" y="61.9">0 rows</text></g>
<g id="stock_pub" transform="translate(620.7,3702)"><use href="#fP"/><text class="t" x="47.8" y="16.6">stock_pub</text><text x="4" y="39.2">...</text><text x="4" y="61.9">&lt; 2</text><text class="r" x="75" y="61.9">0 rows</text></g>
<g id="stock_relationship_pub" transform="translate(588.7,3797.9)"><rect class="h" width="158" height="22.67"/><rect class="b" y="22.67" width="158" height="22.67"/><rect class="b" y="45.33" width="59" height="22.67"/><rect class="b" x="59" y="45.33" width="67.3" height="22.67"/><rect class="b" x="126.3" y="45.33" width="31.7" height="22.67"/><text class="t" x="79" y="16.6">stock_relationship_pub</text><text x="4" y="39.2">...</text><text x="4" y="61.9">&lt; 2</text><text class="r" x="122.3" y="61.9">0 rows</text></g>
<g id="stockprop_pub" transform="translate(615.3,3893.8)"><rect class="h" width="104.7" height="22.67"/><rect class="b" y="22.67" width="104.7" height="22.67"/><rect class="b" y="45.33" width="32.4" height="22.67"/><rect class="b" x="32.4" y="45.33" width="53.6" height="22.67"/><rect class="b" x="86" y="45.33" width="18.7" height="22.67"/><text class="t" x="52.35" y="16.6">stockprop_pub</text><text x="4" y="39.2">...</text><text x="4" y="61.9">&lt; 2</text><text class="r" x="82" y="61.9">0 rows</text></g>
<g id="phenotype_comparison" transform="translate(587.3,3989.8)"><rect class="h" width="160.7" height="22.67"/><rect class="b" y="22.67" width="160.7" height="22.67"/><rect class="b" y="45.33" width="55" height="22.67"/><rect class="b" x="55" y="45.33" width="64.3" height="22.67"/><rect class="b" x="119.3" y="45.33" width="41.4" height="22.67"/><text class="t" x="80.35" y="16.6">phenotype_comparison</text><text x="4" y="39.2">...</text><text x="4" y="61.9">&lt; 8</text><text class="r" x="115.3" y="61.9">0 rows</text><text class="r" x="156.7" y="61.9">1 &gt;</text></g>
<g id="library_cvterm" transform="translate(618.3,4085.8)"><use href="#fT"/><text class="t" x="50.2" y="16.6">library_cvterm</text><text x="4" y="39.2">...</text><text x="4" y="61.9">&lt; 3</text><text class="r" x="79" y="61.9">0 rows</text></g>
<g id="phendesc" transform="translate(620.7,4181.7)"><use href="#fP"/><text class="t" x="47.8" y="16.6">phendesc</text><text x="4" y="39.2">...</text><text x="4" y="61.9">&lt; 4</text><text class="r" x="75" y="61.9">0 rows</text></g>
<g id="phenstatement" transform="translate(615.3,4277.3)"><rect class="h" width="105" height="22.67"/><rect class="b" y="22.67" width="105" height="22.67"/><rect class="b" y="45.33" width="32.4" height="22.67"/><rect class="b" x="32.4" y="45.33" width="53.6" height="22.67"/><rect class="b" x="86" y="45.33" width="19" height="22.67"/><text class="t" x="52.5" y="16.6">phenstatement</text><text x="4" y="39.2">...</text><text x="4" y="61.9">&lt; 5</text><text class="r" x="82" y="61.9">0 rows</text></g>
<g id="pub_relationship" transform="translate(610.3,4373.7)"><use href="#fQ"/><text class="t" x="57.5" y="16.6">pub_relationship</text><text x="4" y="39.2">...</text><text x="4" y="61.9">&lt; 3</text><text class="r" x="89.4" y="61.9">0 rows</text></g>
<g id="pubprop" transform="translate(620.7,4469.6)"><use href="#fP"/><text class="t" x="47.8" y="16.6">pubprop</text><text x="4" y="39.2">...</text><text x="4" y="61.9">&lt; 2</text><text class="r" x="75" y="61.9">0 rows</text></g>
<g id="stock_cvterm" transform="translate(614.3,4565.5)"><use href="#fE"/><text class="t" x="53.7" y="16.6">stock_cvterm</text><text x="4" y="39.2">...</text><text x="4" y="61.9">&lt; 3</text><text class="r" x="75" y="61.9">0 rows</text><text class="r" x="103.4" y="61.9">1 &gt;</text></g>
<g id="stock_relationship_cvterm" transform="translate(578.7,4661.9)"><rect class="h" width="178.6" height="22.67"/><rect class="b" y="22.67" width="178.6" height="22.67"/><rect class="b" y="45.33" width="70.3" height="22.67"/><rect class="b" x="70.3" y="45.33" width="71" height="22.67"/><rect class="b" x="141.3" y="45.33" width="37.3" height="22.67"/><text class="t" x="89.3" y="16.6">stock_relationship_cvterm</text><text x="4" y="39.2">...</text><text x="4" y="61.9">&lt; 3</text><text class="r" x="137.3" y="61.9">0 rows</text></g>
<g id="protocol" transform="translate(614.3,4757.8)"><use href="#fE"/><text class="t" x="53.7" y="16.6">protocol</text><text x="4" y="39.2">...</text><text x="4" y="61.9">&lt; 3</text><text class="r" x="75" y="61.9">0 rows</text><text class="r" x="103.4" y="61.9">6 &gt;</text></g>
<g id="pub_dbxref" transform="translate(620.7,4853.7)"><use href="#fP"/><text class="t" x="47.8" y="16.6">pub_dbxref</text><text x="4" y="39.2">...</text><text x="4" y="61.9">&lt; 2</text><text class="r" x="75" y="61.9">0 rows</text></g>
<g id="study" transform="translate(614.3,4949.6)"><use href="#fE"/><text class="t" x="53.7" y="16.6">study</text><text x="4" y="39.2">...</text><text x="4" y="61.9">&lt; 3</text><text class="r" x="75" y="61.9">0 rows</text><text class="r" x="103.4" y="61.9">3 &gt;</text></g>
<g id="feature_cvterm_pub" transform="translate(873.3,1117.8)"><rect class="h" width="138" height="22.67"/><rect class="b" y="22.67" width="138" height="22.67"/><rect class="b" y="45.33" width="49.7" height="22.67"/><rect class="b" x="49.7" y="45.33" width="61.3" height="22.67"/><rect class="b" x="111" y="45.33" width="27" height="22.67"/><text class="t" x="69" y="16.6">feature_cvterm_pub</text><text x="4" y="39.2">...</text><text x="4" y="61.9">&lt; 2</text><text class="r" x="107" y="61.9">0 rows</text></g>
<g id="feature_relationship_pub" transform="translate(857.7,1314)"><rect class="h" width="169.6" height="22.67"/><rect class="b" y="22.67" width="169.6" height="22.67"/><rect class="b" y="45.33" width="65.3" height="22.67"/><rect class="b" x="65.3" y="45.33" width="69.3" height="22.67"/><rect class="b" x="134.6" y="45.33" width="35" height="22.67"/><text class="t" x="84.8" y="16.6">feature_relationship_pub</text><text x="4" y="39.2">...</text><text x="4" y="61.9">&lt; 2</text><text class="r" x="130.6" y="61.9">0 rows</text></g>
<g id="featureloc_pub" transform="translate(889.7,1611)"><rect class="h" width="104.3" height="22.67"/><rect class="b" y="22.67" width="104.3" height="22.67"/><rect class="b" y="45.33" width="31.6" height="22.67"/><rect class="b" x="31.6" y="45.33" width="54" height="22.67"/><rect class="b" x="85.6" y="45.33" width="18.7" height="22.67"/><text class="t" x="52.15" y="16.6">featureloc_pub</text><text x="4" y="39.2">...</text><text x="4" y="61.9">&lt; 2</text><text class="r" x="81.6" y="61.9">0 rows</text></g>
<g id="featureprop_pub" transform="translate(884.3,2108.7)"><use href="#fQ"/><text class="t" x="57.5" y="16.6">featureprop_pub</text><text x="4" y="39.2">...</text><text x="4" y="61.9">&lt; 2</text><text class="r" x="89.4" y="61.9">0 rows</text></g>
<g id="phylonode_pub" transform="translate(888.7,2548.7)"><rect class="h" width="108" height="22.67"/><rect class="b" y="22.67" width="108" height="22.67"/><rect class="b" y="45.33" width="34.3" height="22.67"/><rect class="b" x="34.3" y="45.33" width="53.3" height="22.67"/><rect class="b" x="87.6" y="45.33" width="20.4" height="22.67"/><text class="t" x="54" y="16.6">phylonode_pub</text><text x="4" y="39.2">...</text><text x="4" y="61.9">&lt; 2</text><text class="r" x="83.6" y="61.9">0 rows</text></g>
<g id="cell_lineprop_pub" transform="translate(880.3,2784.7)"><rect class="h" width="123" height="22.67"/><rect class="b" y="22.67" width="123" height="22.67"/><rect class="b" y="45.33" width="41.4" height="22.67"/><rect class="b" x="41.4" y="45.33" width="57.3" height="22.67"/><rect class="b" x="98.7" y="45.33" width="24.3" height="22.67"/><text class="t" x="61.5" y="16.6">cell_lineprop_pub</text><text x="4" y="39.2">...</text><text x="4" y="61.9">&lt; 2</text><text class="r" x="94.7" y="61.9">0 rows</text></g>
<g id="phenotype_comparison_cvterm" transform="translate(836,3989.8)"><rect class="h" width="212.7" height="22.67"/><rect class="b" y="22.67" width="212.7" height="22.67"/><rect class="b" y="45.33" width="87" height="22.67"/><rect class="b" x="87" y="45.33" width="80.3" height="22.67"/><rect class="b" x="167.3" y="45.33" width="45.4" height="22.67"/><text class="t" x="106.35" y="16.6">phenotype_comparison_cvterm</text><text x="4" y="39.2">...</text><text x="4" y="61.9">&lt; 3</text><text class="r" x="163.3" y="61.9">0 rows</text></g>
<g id="dbxref" transform="translate(16,1895)"><rect class="h" width="114.7" height="22.67"/><rect class="b" y="22.67" width="114.7" height="22.67"/><rect class="b" y="45.33" width="27.7" height="22.67"/><rect class="b" x="27.7" y="45.33" width="51" height="22.67"/><rect class="b" x="78.7" y="45.33" width="36" height="22.67"/><text class="t" x="57.35" y="16.6">dbxref</text><text x="4" y="39.2">...</text><text x="4" y="61.9">&lt; 1</text><text class="r" x="74.7" y="61.9">0 rows</text><text class="r" x="110.7" y="61.9">23 &gt;</text></g>
<g id="organism" transform="translate(210.7,1888.7)"><rect class="h" width="94.6" height="22.67"/><rect class="b" y="22.67" width="94.6" height="22.67"/><rect class="b" y="45.33" width="16" height="22.67"/><rect class="b" x="16" y="45.33" width="50" height="22.67"/><rect class="b" x="66" y="45.33" width="28.6" height="22.67"/><text class="t" x="47.3" y="16.6">organism</text><text x="4" y="39.2">...</text><text class="r" x="62" y="61.9">0 rows</text><text class="r" x="90.6" y="61.9">9 &gt;</text></g>
<g id="cvterm" transform="translate(196,2090)"><rect class="h" width="122.7" height="22.67"/><rect class="b" y="22.67" width="122.7" height="22.67"/><rect class="b" y="45.33" width="28" height="22.67"/><rect class="b" x="28" y="45.33" width="50.7" height="22.67"/><rect class="b" x="78.7" y="45.33" width="44" height="22.67"/><text class="t" x="61.35" y="16.6">cvterm</text><text x="4" y="39.2">...</text><text x="4" y="61.9">&lt; 2</text><text class="r" x="74.7" y="61.9">0 rows</text><text class="r" x="118.7" y="61.9">104 &gt;</text></g>
</g>
<text x="16" y="5111.7">Generated by SchemaSpy</text>
</g>
</svg>
